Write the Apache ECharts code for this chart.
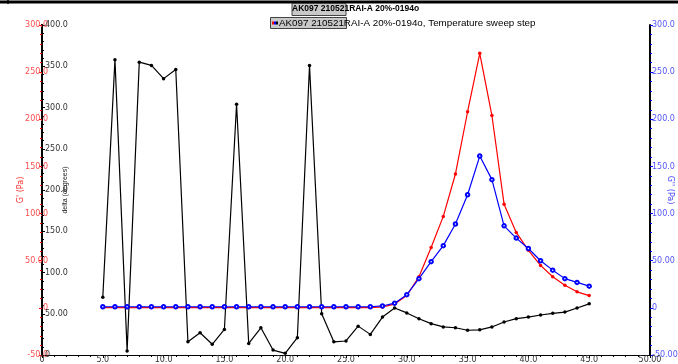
<!DOCTYPE html>
<html>
<head>
<meta charset="utf-8">
<script src="https://cdn.jsdelivr.net/npm/echarts@6/dist/echarts.min.js"></script>
<style>
html,body{margin:0;padding:0;background:#fff;}
#chart{width:678px;height:364px;}
</style>
</head>
<body>
<div id="chart"></div>
<script>
const TITLE = 'AK097 210521RAI-A 20%-0194o';
const LEGEND_TEXT = 'AK097 210521RAI-A 20%-0194o, Temperature sweep step';

// Temperature (x) values
const temperature = [5,6,7,8,9,10,11,12,13,14,15,16,17,18,19,20,21,22,23,24,25,26,27,28,29,30,31,32,33,34,35,36,37,38,39,40,41,42,43,44,45];

// G' (Pa) – red, left axis
const gPrime = [0.3,0.3,0.3,0.3,0.3,0.3,0.3,0.3,0.3,0.3,0.3,0.3,0.3,0.3,0.3,0.3,0.3,0.3,0.3,0.3,0.3,0.3,0.3,1,4,13,33,64,97,142,208,270,204,110,80,61,45,33,24,17,13];

// G'' (Pa) – blue, right axis
const gDoublePrime = [1.2,1.2,1.2,1.2,1.2,1.2,1.2,1.2,1.2,1.2,1.2,1.2,1.2,1.2,1.2,1.2,1.2,1.2,1.2,1.2,1.2,1.2,1.2,2,5,14,31,49,66,89,120,161,136,87,74,63,50,40,31,27,23];

// delta (degrees) – black, inner left axis
const delta = [70,358,5,355,351,335,346,16,27,13,31,304,14,33,6,2,21,351,50,16,17,35,25,46,57,51,44,38,34,33,30,30.5,34,40,44,46,48.5,50.5,52,57,62];

// Tick settings
const xTicks = {min: 0, max: 50, interval: 5};
const gTicks = {min: -50, max: 300, interval: 50};
const deltaTicks = {min: 0, max: 400, interval: 50};

function pairs(xs, ys){ return xs.map((x,i)=>[x, ys[i]]); }
function fmt(v){
  if (v === 0) return '0';
  if (v === 50) return '50.00';
  return v.toFixed(1);
}
const FONT = 'DejaVu Sans';

const chart = echarts.init(document.getElementById('chart'), null, {renderer:'canvas'});
chart.setOption({
  animation: false,
  backgroundColor: '#fff',
  title: {
    text: TITLE,
    left: 292, top: 4,
    textStyle: {fontFamily: 'Liberation Sans', fontSize: 8.5, fontWeight: 'bold', color: '#000'},
    padding: 0
  },
  graphic: [
    {type:'line', z: 0, shape:{x1:0,y1:2,x2:678,y2:2}, style:{stroke:'#000', lineWidth:3}},
    {type:'line', z: 0, shape:{x1:8,y1:0,x2:8,y2:4}, style:{stroke:'#000', lineWidth:1.5}},
    {type:'rect', z: 0, shape:{x:292,y:3.5,width:54,height:12}, style:{fill:'#c8c8c8', stroke:'#444', lineWidth:1}},
    {type:'rect', z: 0, shape:{x:270.5,y:17.5,width:76,height:11}, style:{fill:'#c8c8c8', stroke:'#444', lineWidth:1}}
  ],
  legend: {
    data: ['delta'],
    left: 266, top: 18,
    padding: 0,
    itemWidth: 0, itemHeight: 0,
    formatter: function(){ return '{r| }{u| }{k| }{t|' + LEGEND_TEXT + '}'; },
    textStyle: {
      fontFamily: 'Liberation Sans', fontSize: 9.8, color: '#000',
      rich: {
        r: {backgroundColor:'#ff0000', width: 2, height: 3, fontSize: 3},
        u: {backgroundColor:'#0000ff', width: 2, height: 3, fontSize: 3},
        k: {backgroundColor:'#000000', width: 2, height: 3, fontSize: 3},
        t: {fontFamily: 'Liberation Sans', fontSize: 9.8, color:'#000', padding: [0,0,0,1]}
      }
    }
  },
  grid: {left: 42, right: 28, top: 25, bottom: 9, containLabel: false, outerBoundsMode: 'none'},
  xAxis: {
    type: 'value',
    min: xTicks.min, max: xTicks.max, interval: xTicks.interval,
    axisLine: {show: true, onZero: false, lineStyle: {color:'#000', width: 1}},
    axisTick: {show: true, length: 3, lineStyle: {color:'#000'}},
    minorTick: {show: true, splitNumber: 5, length: 2, lineStyle: {color:'#000'}},
    splitLine: {show: false},
    axisLabel: {margin: 1, fontFamily: FONT, fontSize: 8, color: '#333', formatter: fmt, showMinLabel: true, showMaxLabel: true}
  },
  yAxis: [
    {
      type: 'value', position: 'left',
      min: gTicks.min, max: gTicks.max, interval: gTicks.interval,
      name: "G' (Pa)", nameLocation: 'middle', nameGap: 17, nameRotate: 90, nameMoveOverlap: false,
      nameTextStyle: {color: '#ff3333', fontFamily: FONT, fontSize: 8},
      axisLine: {show: true, onZero: false, lineStyle: {color:'#000', width: 2}},
      axisTick: {show: true, length: 3, lineStyle: {color:'#ff0000'}},
      minorTick: {show: true, splitNumber: 5, length: 2, lineStyle: {color:'#ff0000'}},
      splitLine: {show: false},
      axisLabel: {margin: -6, fontFamily: FONT, fontSize: 8, color: '#ff4d4d', formatter: fmt}
    },
    {
      type: 'value', position: 'left',
      min: deltaTicks.min, max: deltaTicks.max, interval: deltaTicks.interval,
      name: 'delta (degrees)', nameLocation: 'middle', nameGap: -27, nameRotate: 90, nameMoveOverlap: false,
      nameTextStyle: {color: '#222', fontFamily: 'Liberation Sans', fontSize: 7},
      axisLine: {show: true, onZero: false, lineStyle: {color:'#000', width: 2}},
      axisTick: {show: true, inside: true, length: 3, lineStyle: {color:'#000'}},
      minorTick: {show: true, splitNumber: 5, length: 2, lineStyle: {color:'#000'}},
      splitLine: {show: false},
      axisLabel: {inside: true, margin: 3, fontFamily: FONT, fontSize: 8, color: '#333', formatter: fmt}
    },
    {
      type: 'value', position: 'right',
      min: gTicks.min, max: gTicks.max, interval: gTicks.interval,
      name: "G'' (Pa)", nameLocation: 'middle', nameGap: 16, nameRotate: -90, nameMoveOverlap: false,
      nameTextStyle: {color: '#4444ff', fontFamily: FONT, fontSize: 8},
      axisLine: {show: true, onZero: false, lineStyle: {color:'#000', width: 2}},
      axisTick: {show: true, length: 3, lineStyle: {color:'#0000ff'}},
      minorTick: {show: true, splitNumber: 5, length: 2, lineStyle: {color:'#0000ff'}},
      splitLine: {show: false},
      axisLabel: {margin: 2, fontFamily: FONT, fontSize: 8, color: '#5555ff',
        formatter: function(v){ return v === -50 ? '-50.00' : fmt(v); }}
    }
  ],
  series: [
    {
      name: "G'", type: 'line', yAxisIndex: 0, data: pairs(temperature, gPrime),
      symbol: 'circle', symbolSize: 3.5, showSymbol: true,
      lineStyle: {color:'#ff0000', width: 1.2}, itemStyle: {color:'#ff0000'}
    },
    {
      name: "G''", type: 'line', yAxisIndex: 2, data: pairs(temperature, gDoublePrime),
      symbol: 'emptyCircle', symbolSize: 3.5, showSymbol: true,
      lineStyle: {color:'#0000ff', width: 1.2}, itemStyle: {color:'#0000ff', borderWidth: 1}
    },
    {
      name: 'delta', type: 'line', yAxisIndex: 1, data: pairs(temperature, delta),
      symbol: 'circle', symbolSize: 3.5, showSymbol: true,
      lineStyle: {color:'#000000', width: 1.2}, itemStyle: {color:'#000000'}
    }
  ]
});
</script>
</body>
</html>
